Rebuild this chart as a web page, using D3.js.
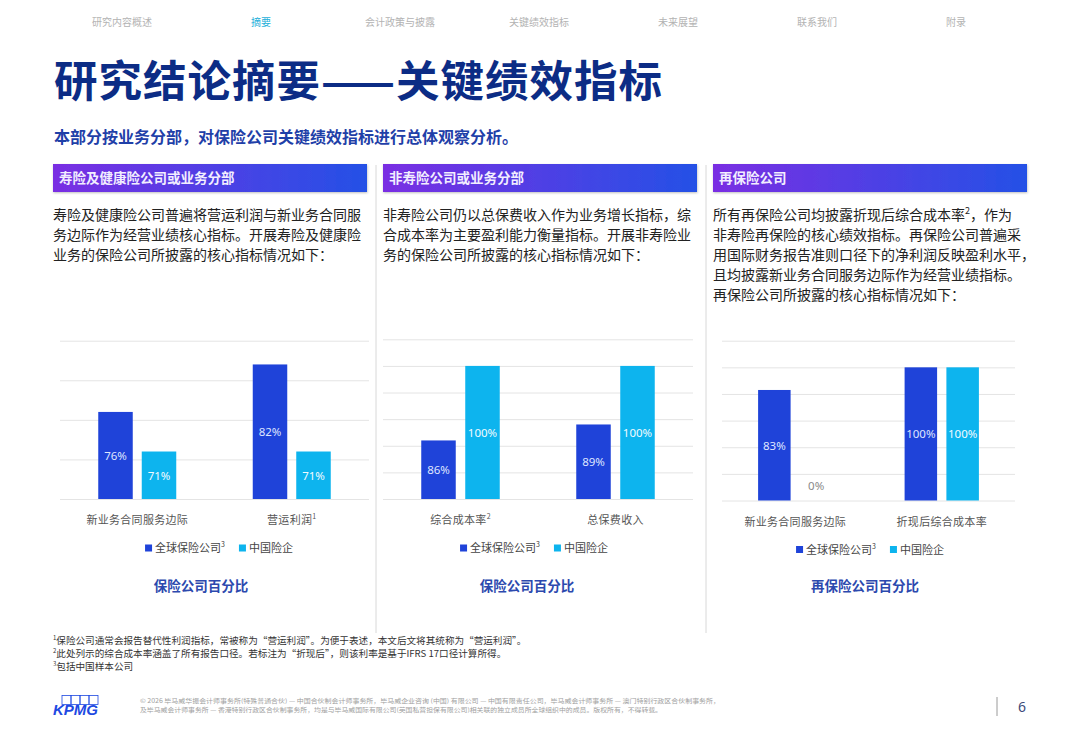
<!DOCTYPE html>
<html>
<head>
  <meta charset="utf-8">
  <title>研究结论摘要——关键绩效指标</title>
  <script src="https://d3js.org/d3.v7.min.js"></script>
  <style>
    body { margin: 0; background: #fff; }
    svg text { font-family: 'Noto Sans CJK SC', 'Noto Sans', sans-serif; }
    .grid line { stroke: #e4e4e4; }
    .grid .domain { stroke: none; }
  </style>
</head>
<body>
  <svg id="canvas" width="1080" height="748"></svg>

  <script>
    /** Page texts */
    const navItems = ['研究内容概述', '摘要', '会计政策与披露', '关键绩效指标', '未来展望', '联系我们', '附录'];
    const activeNav = '摘要';
    const pageTitle = '研究结论摘要——关键绩效指标';
    const pageSubtitle = '本部分按业务分部，对保险公司关键绩效指标进行总体观察分析。';
    const panelTitles = ['寿险及健康险公司或业务分部', '非寿险公司或业务分部', '再保险公司'];
    const panelText = [
      ['寿险及健康险公司普遍将营运利润与新业务合同服',
       '务边际作为经营业绩核心指标。开展寿险及健康险',
       '业务的保险公司所披露的核心指标情况如下：'],
      ['非寿险公司仍以总保费收入作为业务增长指标，综',
       '合成本率为主要盈利能力衡量指标。开展非寿险业',
       '务的保险公司所披露的核心指标情况如下：'],
      ['所有再保险公司均披露折现后综合成本率^2，作为',
       '非寿险再保险的核心绩效指标。再保险公司普遍采',
       '用国际财务报告准则口径下的净利润反映盈利水平，',
       '且均披露新业务合同服务边际作为经营业绩指标。',
       '再保险公司所披露的核心指标情况如下：']
    ];

    /** Chart data (percent of companies) */
    const seriesNames = ['全球保险公司^3', '中国险企'];

    const lifeCategories = ['新业务合同服务边际', '营运利润^1'];
    const lifeGlobal = [76, 82];
    const lifeChina = [71, 71];
    const lifeTicks = [65, 70, 75, 80, 85];

    const nonLifeCategories = ['综合成本率^2', '总保费收入'];
    const nonLifeGlobal = [86, 89];
    const nonLifeChina = [100, 100];
    const nonLifeTicks = [75, 80, 85, 90, 95, 100, 105];

    const reCategories = ['新业务合同服务边际', '折现后综合成本率'];
    const reGlobal = [83, 100];
    const reChina = [0, 100];
    const reTicks = [0, 20, 40, 60, 80, 100, 120];

    const chartTitles = ['保险公司百分比', '保险公司百分比', '再保险公司百分比'];

    const footnotes = [
      '^1保险公司通常会报告替代性利润指标，常被称为“营运利润”。为便于表述，本文后文将其统称为“营运利润”。',
      '^2此处列示的综合成本率涵盖了所有报告口径。若标注为“折现后”，则该利率是基于IFRS 17口径计算所得。',
      '^3包括中国样本公司'
    ];
    const footerText = [
      '© 2026 毕马威华振会计师事务所(特殊普通合伙) — 中国合伙制会计师事务所，毕马威企业咨询 (中国) 有限公司 — 中国有限责任公司，毕马威会计师事务所 — 澳门特别行政区合伙制事务所，',
      '及毕马威会计师事务所 — 香港特别行政区合伙制事务所，均是与毕马威国际有限公司(英国私营担保有限公司)相关联的独立成员所全球组织中的成员。版权所有，不得转载。'
    ];
    const pageNumber = '6';

    const globalColor = '#1f43d9';
    const chinaColor = '#0db4ee';

    let svg = d3.select('svg#canvas');

    // text with ^n superscripts turned into raised tspans
    function richText(sel, str, size, supSize) {
      const parts = str.split(/\^(\d)/);
      const lift = size * 0.42;
      let raised = false;
      parts.forEach((p, i) => {
        if (p === '') return;
        const t = sel.append('tspan').text(p);
        if (i % 2 === 1) {
          t.attr('font-size', supSize).attr('dy', -lift);
          raised = true;
        } else if (raised) {
          t.attr('dy', lift);
          raised = false;
        }
      });
      return sel;
    }

    const defs = svg.append('defs');
    const grad = defs.append('linearGradient').attr('id', 'hdrGrad')
      .attr('x1', 0).attr('x2', 1).attr('y1', 0).attr('y2', 0);
    grad.append('stop').attr('offset', 0).attr('stop-color', '#7a2ee3');
    grad.append('stop').attr('offset', 1).attr('stop-color', '#2451e6');
    const shadow = defs.append('filter').attr('id', 'hdrShadow')
      .attr('x', '-5%').attr('y', '-20%').attr('width', '110%').attr('height', '160%');
    shadow.append('feDropShadow').attr('dx', 0.5).attr('dy', 1).attr('stdDeviation', 1)
      .attr('flood-color', '#000').attr('flood-opacity', 0.25);

    /** Top navigation */
    svg.append('g').selectAll('text')
      .data(navItems)
      .join('text')
      .attr('x', (d, i) => 122 + i * 139)
      .attr('y', 26)
      .attr('text-anchor', 'middle')
      .style('font-size', '10px')
      .attr('fill', d => d === activeNav ? '#1fb0da' : '#b3b3b3')
      .text(d => d);

    /** Title and lead */
    svg.append('text')
      .attr('x', 54).attr('y', 97)
      .style('font-size', '43.5px').style('font-weight', 700)
      .style('letter-spacing', '1px')
      .attr('fill', '#0c2c85')
      .text(pageTitle);

    svg.append('text')
      .attr('x', 54).attr('y', 143)
      .style('font-size', '16px').style('font-weight', 700)
      .attr('fill', '#1f40a8')
      .text(pageSubtitle);

    /** Panels: header bar + paragraph */
    const panelX = [53, 383, 713];
    panelTitles.forEach((title, i) => {
      svg.append('rect')
        .attr('x', panelX[i]).attr('y', 164)
        .attr('width', 314).attr('height', 28)
        .attr('fill', 'url(#hdrGrad)')
        .attr('filter', 'url(#hdrShadow)');
      svg.append('text')
        .attr('x', panelX[i] + 6).attr('y', 183)
        .style('font-size', '13.5px').style('font-weight', 700)
        .attr('fill', '#f2eeff')
        .text(title);

      panelText[i].forEach((line, j) => {
        richText(svg.append('text')
          .attr('x', panelX[i]).attr('y', 220 + j * 20)
          .style('font-size', '14px')
          .attr('fill', '#222'), line, 14, 9);
      });
    });

    // vertical dividers
    [376, 706].forEach(x => {
      svg.append('line')
        .attr('x1', x).attr('x2', x).attr('y1', 165).attr('y2', 633)
        .attr('stroke', '#d8d8d8').attr('stroke-width', 1);
    });

    /** Grouped bar chart */
    function drawChart(cfg) {
      const g = svg.append('g');
      const y = d3.scaleLinear().domain(d3.extent(cfg.ticks)).range([cfg.yBase, cfg.yTop]);
      const x0 = d3.scaleBand().domain(cfg.categories).range(cfg.xRange);
      const pairWidth = 2 * cfg.barWidth + cfg.gap;
      const x1 = d3.scaleBand().domain(d3.range(seriesNames.length))
        .range([0, pairWidth]).paddingInner(cfg.gap / (cfg.barWidth + cfg.gap));
      const colors = [globalColor, chinaColor];

      g.append('g')
        .attr('class', 'grid')
        .attr('transform', `translate(${cfg.xRange[0]}, 0)`)
        .call(d3.axisLeft(y).tickValues(cfg.ticks)
          .tickSize(-(cfg.xRange[1] - cfg.xRange[0])).tickFormat(''));

      const rows = cfg.categories.map((c, i) => ({
        cat: c,
        values: [cfg.globalVals[i], cfg.chinaVals[i]].map((v, s) => ({ s: s, v: v }))
      }));

      const groups = g.selectAll('g.cat')
        .data(rows)
        .join('g')
        .attr('class', 'cat')
        .attr('transform', d => `translate(${x0(d.cat) + x0.bandwidth() / 2 - pairWidth / 2}, 0)`);

      groups.selectAll('rect')
        .data(d => d.values)
        .join('rect')
        .attr('x', d => x1(d.s))
        .attr('y', d => y(d.v))
        .attr('width', x1.bandwidth())
        .attr('height', d => y.range()[0] - y(Math.max(d.v, y.domain()[0])))
        .attr('fill', d => colors[d.s]);

      groups.selectAll('text')
        .data(d => d.values)
        .join('text')
        .attr('x', d => x1(d.s) + x1.bandwidth() / 2)
        .attr('y', d => {
          const h = cfg.yBase - y(d.v);
          return h < 20 ? cfg.yBase - 15 : (y(d.v) + cfg.yBase) / 2;
        })
        .attr('text-anchor', 'middle')
        .attr('dominant-baseline', 'central')
        .style('font-family', "'Noto Sans', sans-serif")
        .style('font-size', '11.5px')
        .attr('fill', d => (cfg.yBase - y(d.v)) < 20 ? '#8a8a8a' : (d.s === 0 ? '#dfe6ff' : '#f2fbff'))
        .text(d => d.v + '%');

      // category labels
      cfg.categories.forEach(c => {
        richText(g.append('text')
          .attr('x', x0(c) + x0.bandwidth() / 2)
          .attr('y', cfg.yBase + 25)
          .attr('text-anchor', 'middle')
          .style('font-size', '11px')
          .style('letter-spacing', '0.3px')
          .attr('fill', '#555'), c, 11, 7);
      });

      // legend
      const legend = g.append('g');
      let lx = 0;
      seriesNames.forEach((name, s) => {
        legend.append('rect')
          .attr('x', lx).attr('y', -3.5)
          .attr('width', 7).attr('height', 7)
          .attr('fill', colors[s]);
        const t = richText(legend.append('text')
          .attr('x', lx + 10).attr('y', 4)
          .style('font-size', '11px')
          .attr('fill', '#444'), name, 11, 7);
        lx += 10 + t.node().getComputedTextLength() + 14;
      });
      const lw = legend.node().getBBox().width;
      legend.attr('transform', `translate(${cfg.legendCenter - lw / 2}, ${cfg.yBase + 49})`);

      // chart caption
      g.append('text')
        .attr('x', cfg.captionX)
        .attr('y', 591)
        .attr('text-anchor', 'middle')
        .style('font-size', '13.5px').style('font-weight', 700)
        .attr('fill', '#2c49ae')
        .text(cfg.caption);
    }

    drawChart({
      categories: lifeCategories, globalVals: lifeGlobal, chinaVals: lifeChina, ticks: lifeTicks,
      xRange: [60, 369], yBase: 499, yTop: 340.7, barWidth: 34.5, gap: 9,
      legendCenter: 219, captionX: 201, caption: chartTitles[0]
    });
    drawChart({
      categories: nonLifeCategories, globalVals: nonLifeGlobal, chinaVals: nonLifeChina, ticks: nonLifeTicks,
      xRange: [383, 693], yBase: 499, yTop: 339.3, barWidth: 34.5, gap: 9.5,
      legendCenter: 534, captionX: 527, caption: chartTitles[1]
    });
    drawChart({
      categories: reCategories, globalVals: reGlobal, chinaVals: reChina, ticks: reTicks,
      xRange: [722, 1015], yBase: 500.5, yTop: 340.7, barWidth: 32.5, gap: 9.3,
      legendCenter: 870, captionX: 865, caption: chartTitles[2]
    });

    /** Footnotes */
    footnotes.forEach((line, i) => {
      richText(svg.append('text')
        .attr('x', 53).attr('y', 644 + i * 13)
        .style('font-size', '9.6px')
        .attr('fill', '#333'), line, 9.6, 6);
    });

    /** Footer */
    const logo = svg.append('g');
    d3.range(4).forEach(i => {
      logo.append('rect')
        .attr('x', 62 + i * 9).attr('y', 695.5)
        .attr('width', 9).attr('height', 9)
        .attr('fill', 'none').attr('stroke', '#1e49e2').attr('stroke-width', 0.8);
    });
    logo.append('text')
      .attr('x', 53).attr('y', 715)
      .style('font-family', "'Liberation Sans', Arial, sans-serif")
      .style('font-size', '15px').style('font-weight', 700).style('font-style', 'italic')
      .attr('fill', '#1e49e2')
      .text('KPMG');

    footerText.forEach((line, i) => {
      svg.append('text')
        .attr('x', 140).attr('y', 703 + i * 8.5)
        .attr('textLength', i === 0 ? 580 : 522)
        .attr('lengthAdjust', 'spacingAndGlyphs')
        .style('font-size', '6px')
        .attr('fill', '#a0a0a0')
        .text(line);
    });

    svg.append('line')
      .attr('x1', 997).attr('x2', 997).attr('y1', 697).attr('y2', 716)
      .attr('stroke', '#9a9a9a').attr('stroke-width', 1);
    svg.append('text')
      .attr('x', 1022).attr('y', 712)
      .attr('text-anchor', 'middle')
      .style('font-family', "'Noto Sans', sans-serif")
      .style('font-size', '14px')
      .attr('fill', '#3b4a7a')
      .text(pageNumber);
  </script>
</body>
</html>
